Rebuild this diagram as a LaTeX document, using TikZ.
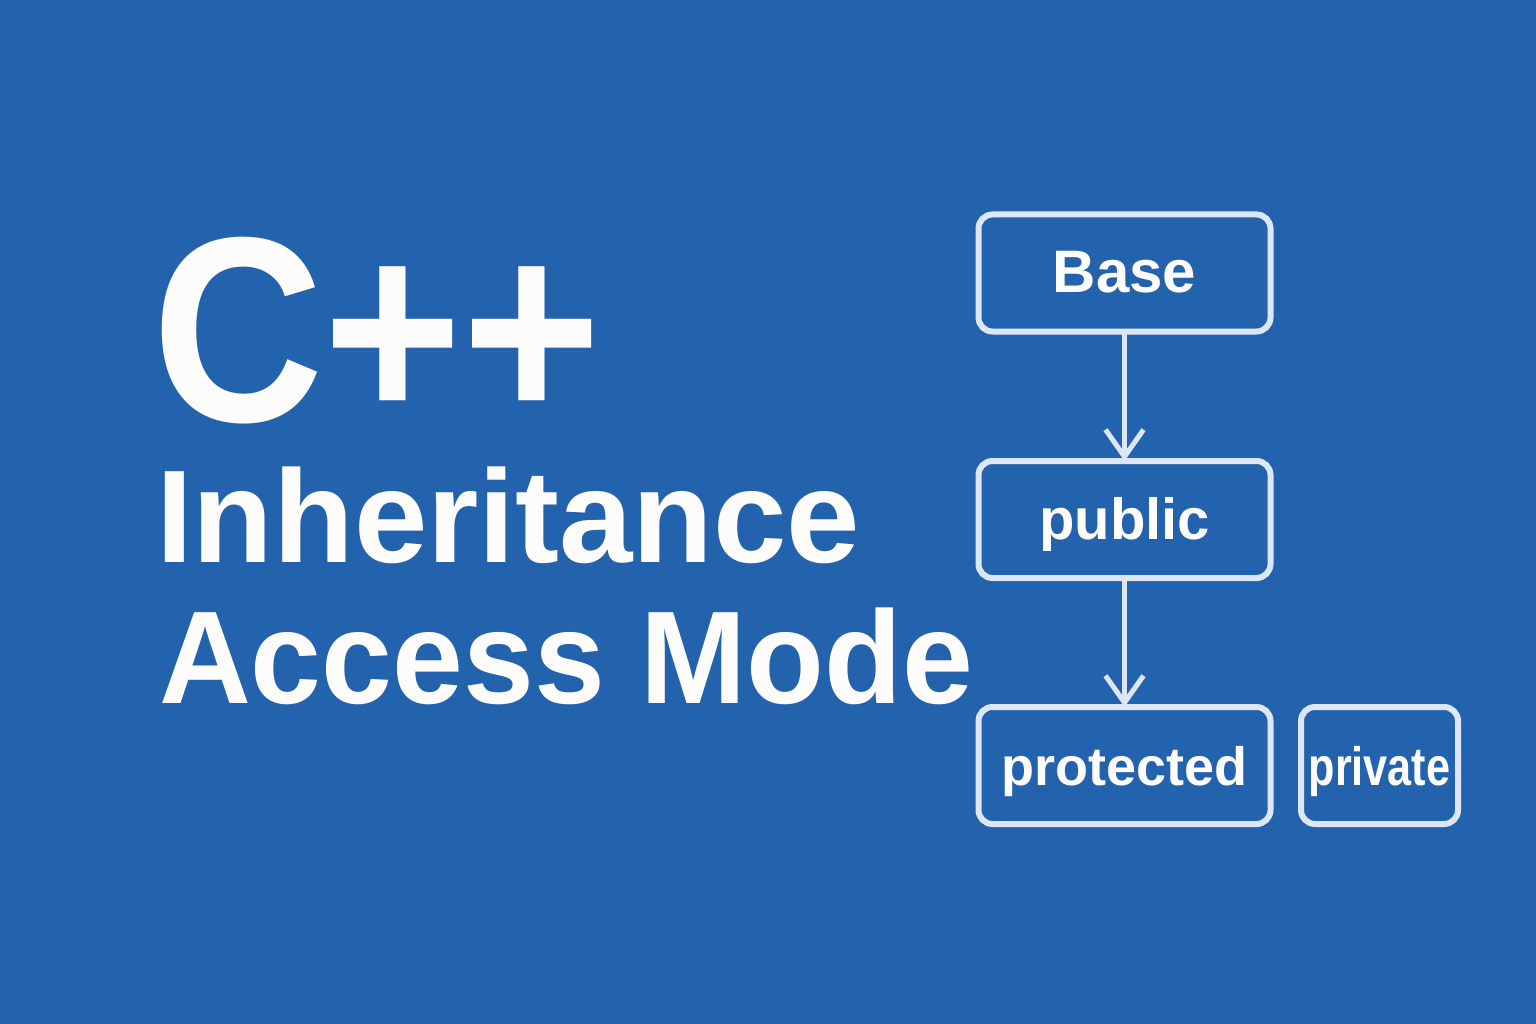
\documentclass[tikz,border=0pt]{standalone}
\usepackage{fontspec}
\setmainfont{Liberation Sans}
\usetikzlibrary{arrows.meta}
\definecolor{bg}{HTML}{2363AD}
\definecolor{edge}{HTML}{DCE6F5}
\definecolor{ink}{HTML}{FDFCFA}
\begin{document}
\begin{tikzpicture}[x=1pt,y=-1pt,
  accbox/.style={draw=edge, line width=6pt, rounded corners=14pt,
    minimum width=292pt, minimum height=117pt, inner sep=0pt, outer sep=0pt,
    text=ink, text height=48pt, text depth=8pt,
    font=\bfseries\fontsize{54}{54}\selectfont},
  flow/.style={draw=edge, line width=5pt, line cap=round, line join=round,
    -{Straight Barb[length=27pt,width=38pt]}},
  title/.style={anchor=base west, inner sep=0pt, outer sep=0pt, text=ink,
    font=\bfseries\fontsize{#1}{#1}\selectfont}]
  % background
  \fill[bg] (0,0) rectangle (1536,1024);
  \useasboundingbox (0,0) rectangle (1536,1024);

  % heading
  \node[title=264] (cpp) at (152,421) {\scalebox{0.9}[1]{C++}};
  \node[title=132] (inh) at (156,562) {Inheritance};
  \node[title=132] (acc) at (159,703) {\scalebox{0.965}[1]{Access Mode}};

  % access-mode chain
  \node[accbox, font=\bfseries\fontsize{60}{60}\selectfont] (base) at (1124.5,273) {Base};
  \node[accbox, font=\bfseries\fontsize{58}{58}\selectfont] (pub) at (1124.5,519.5) {public};
  \node[accbox] (prot) at (1124.5,765.5) {protected};
  \node[accbox, minimum width=157pt] (priv) at (1379.5,765.5) {\scalebox{0.8}[1]{private}};

  \draw[flow] (base) -- (pub);
  \draw[flow] (pub) -- (prot);
\end{tikzpicture}
\end{document}
